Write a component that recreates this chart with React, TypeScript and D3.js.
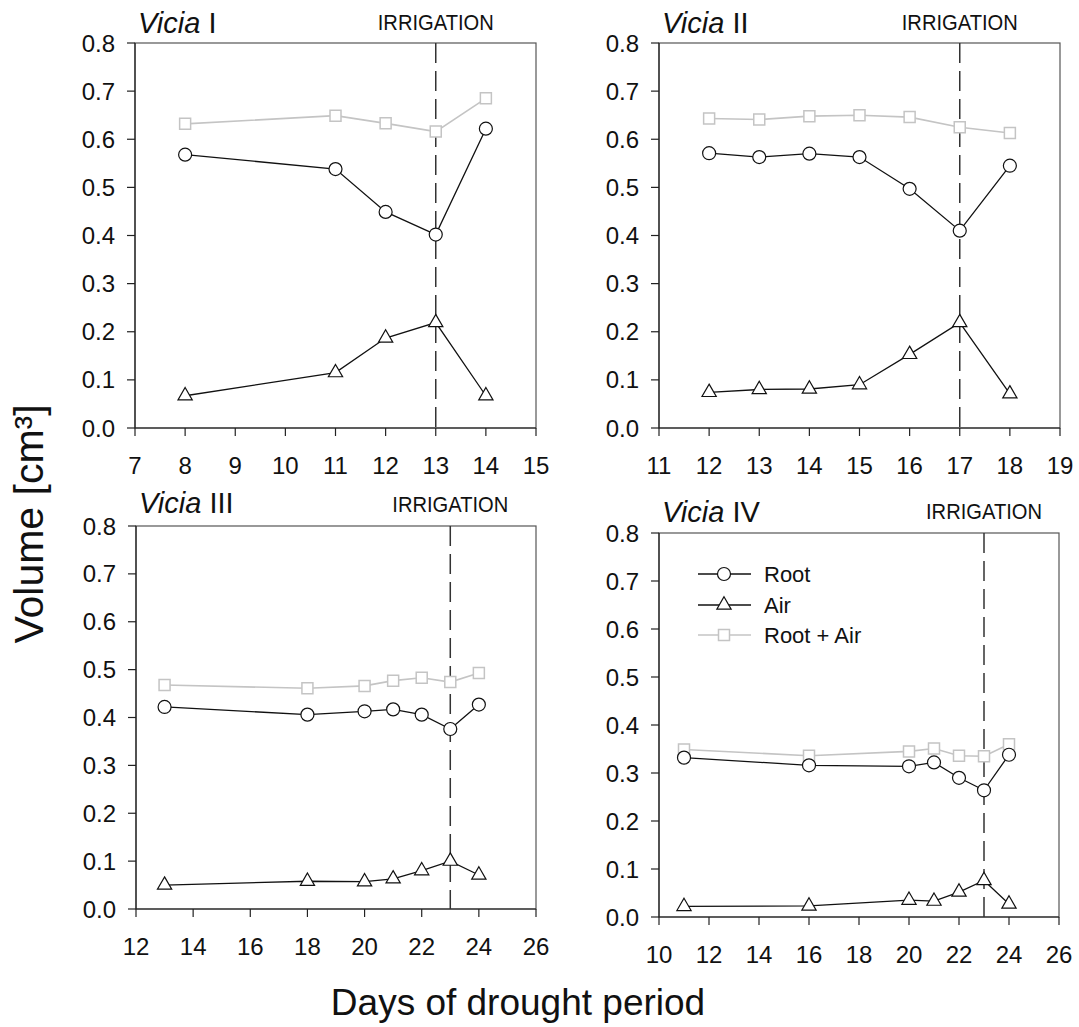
import React from "react";
import * as d3 from "d3";

// ---------- data ----------
const daysI = [8, 11, 12, 13, 14];
const rootI = [0.568, 0.538, 0.449, 0.402, 0.622];
const airI = [0.067, 0.115, 0.187, 0.219, 0.067];
const totalI = [0.632, 0.649, 0.633, 0.616, 0.685];

const daysII = [12, 13, 14, 15, 16, 17, 18];
const rootII = [0.571, 0.563, 0.570, 0.563, 0.497, 0.410, 0.545];
const airII = [0.074, 0.080, 0.081, 0.090, 0.153, 0.219, 0.071];
const totalII = [0.643, 0.641, 0.648, 0.650, 0.646, 0.625, 0.613];

const daysIII = [13, 18, 20, 21, 22, 23, 24];
const rootIII = [0.422, 0.406, 0.413, 0.417, 0.406, 0.376, 0.427];
const airIII = [0.050, 0.058, 0.057, 0.063, 0.080, 0.100, 0.071];
const totalIII = [0.468, 0.461, 0.466, 0.477, 0.483, 0.474, 0.493];

const daysIV = [11, 16, 20, 21, 22, 23, 24];
const rootIV = [0.332, 0.316, 0.314, 0.322, 0.290, 0.264, 0.338];
const airIV = [0.022, 0.023, 0.035, 0.033, 0.052, 0.076, 0.027];
const totalIV = [0.349, 0.336, 0.345, 0.351, 0.336, 0.335, 0.360];

const panelNumerals = ["I", "II", "III", "IV"];
const xDomains = [[7, 15], [11, 19], [12, 26], [10, 26]];
const xTickSteps = [1, 1, 2, 2];
const irrigationDays = [13, 17, 23, 23];
const yTicks = [0, 0.1, 0.2, 0.3, 0.4, 0.5, 0.6, 0.7, 0.8];
const legendLabels = ["Root", "Air", "Root + Air"];
const yTitle = "Volume [cm³]";
const xTitle = "Days of drought period";
const irrigationLabel = "IRRIGATION";

// ---------- layout ----------
const panels = [
  { left: 135, right: 536, top: 43, bottom: 428, titleY: 33, irrY: 30, days: daysI, root: rootI, air: airI, total: totalI },
  { left: 659, right: 1060, top: 43, bottom: 428, titleY: 33, irrY: 30, days: daysII, root: rootII, air: airII, total: totalII },
  { left: 136, right: 536, top: 526, bottom: 909, titleY: 513, irrY: 512, days: daysIII, root: rootIII, air: airIII, total: totalIII },
  { left: 659, right: 1059, top: 533, bottom: 917, titleY: 522, irrY: 519, days: daysIV, root: rootIV, air: airIV, total: totalIV },
];

const FONT = "'Liberation Sans', Arial, Helvetica, sans-serif";
const GRAY = "#c4c4c4";

const circlePath = d3.symbol().type(d3.symbolCircle).size(Math.PI * 6.5 * 6.5)() as string;
const trianglePath = d3.symbol().type(d3.symbolTriangle).size(88)() as string;
const squarePath = d3.symbol().type(d3.symbolSquare).size(121)() as string;

function Panel({ p, i }: { p: (typeof panels)[number]; i: number }) {
  const x = d3.scaleLinear().domain(xDomains[i]).range([p.left, p.right]);
  const y = d3.scaleLinear().domain([0, 0.8]).range([p.bottom, p.top]);
  const xt = d3.range(xDomains[i][0], xDomains[i][1] + 0.001, xTickSteps[i]);
  const line = (vals: number[]) =>
    d3.line<number>().x((_, k) => x(p.days[k])).y((v) => y(v))(vals) as string;
  const irrX = x(irrigationDays[i]);
  return (
    <g>
      {/* frame */}
      <rect x={p.left} y={p.top} width={p.right - p.left} height={p.bottom - p.top} fill="none" stroke="#555" strokeWidth={1.2} />
      <line x1={p.left} x2={p.left} y1={p.top} y2={p.bottom} stroke="#222" strokeWidth={1.2} />
      <line x1={p.left} x2={p.right} y1={p.bottom} y2={p.bottom} stroke="#222" strokeWidth={1.2} />
      {/* y ticks */}
      {yTicks.map((t) => (
        <g key={"y" + t}>
          <line x1={p.left - 8} x2={p.left} y1={y(t)} y2={y(t)} stroke="#222" strokeWidth={1.2} />
          <text x={p.left - 20} y={y(t) + 8.5} textAnchor="end" fontSize={24} fontFamily={FONT} fill="#111">
            {d3.format(".1f")(t)}
          </text>
        </g>
      ))}
      {/* x ticks */}
      {xt.map((t) => (
        <g key={"x" + t}>
          <line x1={x(t)} x2={x(t)} y1={p.bottom} y2={p.bottom + 8} stroke="#222" strokeWidth={1.2} />
          <text x={x(t)} y={p.bottom + 46} textAnchor="middle" fontSize={24} fontFamily={FONT} fill="#111">
            {t}
          </text>
        </g>
      ))}
      {/* irrigation */}
      <line x1={irrX} x2={irrX} y1={p.top} y2={p.bottom} stroke="#333" strokeWidth={1.5} strokeDasharray="20,8" />
      <text x={irrX} y={p.irrY} textAnchor="middle" fontSize={22} fontFamily={FONT} fill="#111" textLength={116} lengthAdjust="spacingAndGlyphs">
        {irrigationLabel}
      </text>
      {/* title */}
      <text x={p.left + 3} y={p.titleY} fontSize={29} fontFamily={FONT} fill="#111">
        <tspan fontStyle="italic">Vicia</tspan> {panelNumerals[i]}
      </text>
      {/* series */}
      <path d={line(p.total)} fill="none" stroke={GRAY} strokeWidth={1.6} />
      <path d={line(p.root)} fill="none" stroke="#111" strokeWidth={1.3} />
      <path d={line(p.air)} fill="none" stroke="#111" strokeWidth={1.3} />
      {p.total.map((v, k) => (
        <path key={"s" + k} d={squarePath} transform={`translate(${x(p.days[k])},${y(v)})`} fill="#fff" stroke={GRAY} strokeWidth={1.5} />
      ))}
      {p.root.map((v, k) => (
        <path key={"c" + k} d={circlePath} transform={`translate(${x(p.days[k])},${y(v)})`} fill="#fff" stroke="#111" strokeWidth={1.2} />
      ))}
      {p.air.map((v, k) => (
        <path key={"t" + k} d={trianglePath} transform={`translate(${x(p.days[k])},${y(v)})`} fill="#fff" stroke="#111" strokeWidth={1.2} />
      ))}
    </g>
  );
}

function Legend() {
  const lx1 = 698, lx2 = 751, mx = 724, tx = 764;
  const rows = [574, 605, 635];
  const shapes = [circlePath, trianglePath, squarePath];
  const colors = ["#111", "#111", GRAY];
  return (
    <g>
      {legendLabels.map((lab, k) => (
        <g key={lab}>
          <line x1={lx1} x2={lx2} y1={rows[k]} y2={rows[k]} stroke={colors[k]} strokeWidth={k === 2 ? 1.6 : 1.3} />
          <path d={shapes[k]} transform={`translate(${mx},${rows[k]})`} fill="#fff" stroke={colors[k]} strokeWidth={k === 2 ? 1.5 : 1.2} />
          <text x={tx} y={rows[k] + 8} fontSize={22} fontFamily={FONT} fill="#111">
            {lab}
          </text>
        </g>
      ))}
    </g>
  );
}

export default function App() {
  return (
    <svg width={1079} height={1027} style={{ position: "absolute", left: 0, top: 0, background: "#fff" }}>
      <rect x={0} y={0} width={1079} height={1027} fill="#fff" />
      {panels.map((p, i) => (
        <Panel key={i} p={p} i={i} />
      ))}
      <Legend />
      <text transform="translate(43,524) rotate(-90)" textAnchor="middle" fontSize={41} fontFamily={FONT} fill="#111">
        {yTitle}
      </text>
      <text x={518} y={1015} textAnchor="middle" fontSize={37} fontFamily={FONT} fill="#111">
        {xTitle}
      </text>
    </svg>
  );
}
